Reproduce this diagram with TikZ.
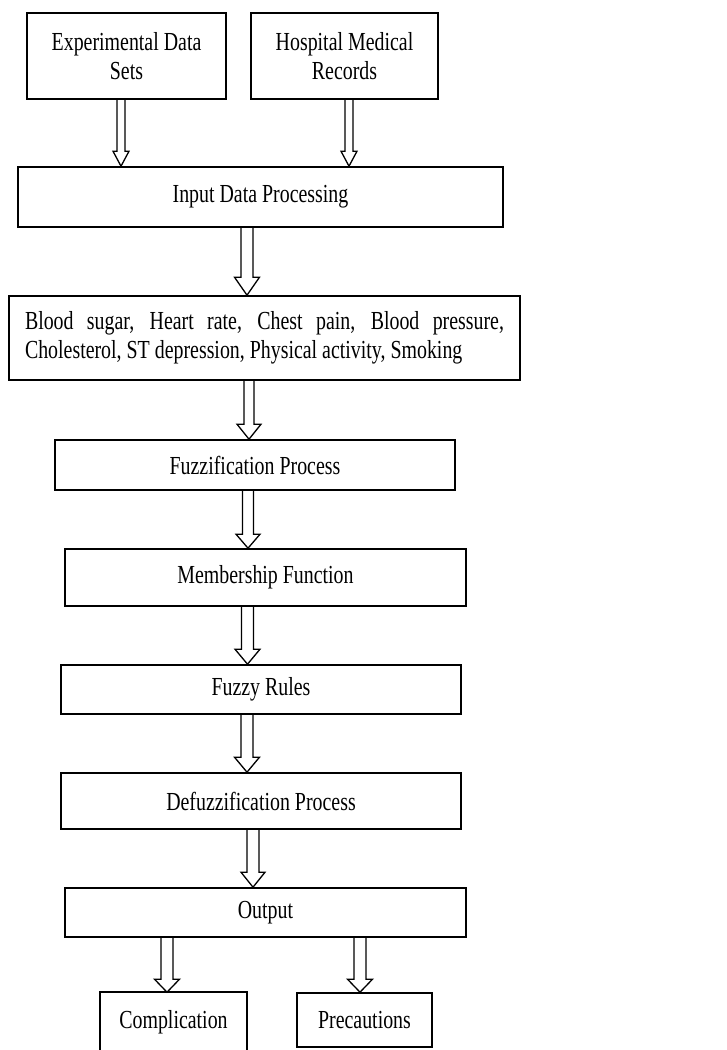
\documentclass[tikz,border=0pt]{standalone}
\usepackage{fontspec}
\setmainfont{Liberation Serif}[FakeStretch=0.765]
\usetikzlibrary{calc}
\tikzset{
  box/.style={draw=black, line width=1.6pt, inner sep=0pt, align=center,
    font=\fontsize{26}{29.5}\selectfont},
  arrline/.style={draw=black, line width=1.3pt, line join=miter}
}
% #1 start, #2 end, #3 shaft half width, #4 head half width, #5 head length
\newcommand\blockarr[5]{%
  \draw[arrline] let \p1=(#1), \p2=(#2) in
    (\x1-#3,\y1) -- (\x1-#3,\y2+#5) -- (\x1-#4,\y2+#5) -- (\x1,\y2)
    -- (\x1+#4,\y2+#5) -- (\x1+#3,\y2+#5) -- (\x1+#3,\y1);}
\begin{document}
\begin{tikzpicture}[x=1pt,y=-1pt]
\useasboundingbox (0,0) rectangle (727,1050);

\node[box, minimum width=199pt, minimum height=86pt] (exp) at (126.5,56) {Experimental Data\\Sets};
\node[box, minimum width=187pt, minimum height=86pt] (hosp) at (344.5,56) {Hospital Medical\\Records};
\node[box, minimum width=485pt, minimum height=60pt] (input) at (260.5,197) {Input Data Processing};
\node[box, minimum width=511pt, minimum height=84pt, text width=479pt, align=justify] (blood) at (264.5,338)
  {Blood sugar, Heart rate, Chest pain, Blood pressure,\linebreak Cholesterol, ST depression, Physical activity, Smoking};
\node[box, minimum width=400pt, minimum height=50pt] (fuzz) at (255,465) {Fuzzification Process};
\node[box, minimum width=401pt, minimum height=57pt] (memb) at (265.5,577.5) {Membership Function};
\node[box, minimum width=400pt, minimum height=49pt] (rules) at (261,689.5) {Fuzzy Rules};
\node[box, minimum width=400pt, minimum height=56pt] (defuzz) at (261,801) {Defuzzification Process};
\node[box, minimum width=401pt, minimum height=49pt] (output) at (265.5,912.5) {Output};
\node[box, draw=none, minimum width=145pt, minimum height=58pt] (compl) at (173.5,1022) {Complication};
\draw[line width=1.6pt] (compl.south west) -- (compl.north west) -- (compl.north east) -- (compl.south east);
\node[box, minimum width=135pt, minimum height=54pt] (prec) at (364.5,1020) {Precautions};

\blockarr{[xshift=-5.5pt]exp.south}{input.north}{4pt}{8pt}{15pt}
\blockarr{[xshift=4.5pt]hosp.south}{input.north}{4pt}{8pt}{15pt}
\blockarr{[xshift=-13.5pt]input.south}{blood.north}{6pt}{12.5pt}{18pt}
\blockarr{[xshift=-15.5pt]blood.south}{fuzz.north}{5pt}{12pt}{15pt}
\blockarr{[xshift=-7pt]fuzz.south}{memb.north}{5.5pt}{12pt}{14pt}
\blockarr{[xshift=-18pt]memb.south}{rules.north}{6pt}{12.5pt}{15pt}
\blockarr{[xshift=-14pt]rules.south}{defuzz.north}{6pt}{12.5pt}{15pt}
\blockarr{[xshift=-8pt]defuzz.south}{output.north}{6pt}{12pt}{15pt}
\blockarr{[xshift=-98.5pt]output.south}{compl.north}{6pt}{12.5pt}{13pt}
\blockarr{[xshift=94.5pt]output.south}{prec.north}{6pt}{12.5pt}{13pt}
\end{tikzpicture}
\end{document}
